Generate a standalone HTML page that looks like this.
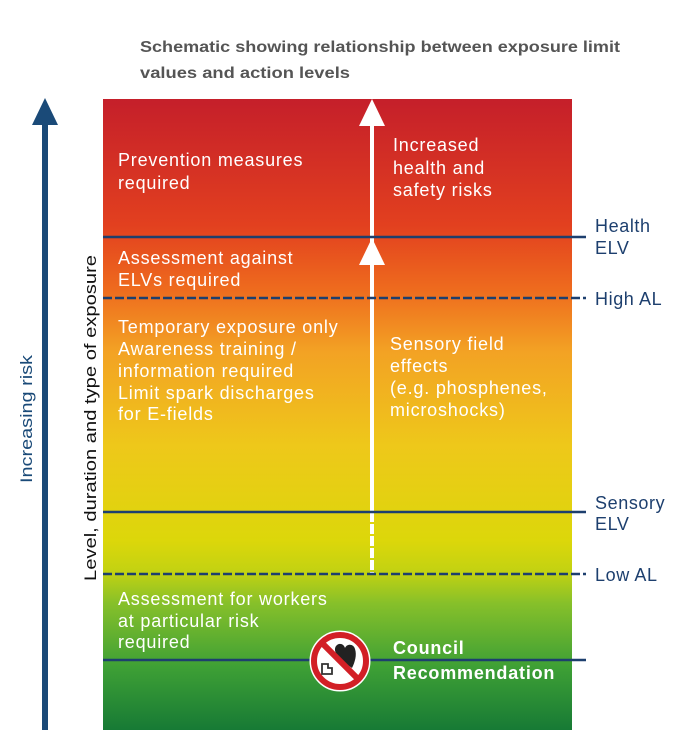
<!DOCTYPE html>
<html><head><meta charset="utf-8"><style>html,body{margin:0;padding:0;background:#fff}svg{display:block}</style></head>
<body>
<svg width="697" height="739" viewBox="0 0 697 739" xmlns="http://www.w3.org/2000/svg" font-family="Liberation Sans, sans-serif">
<defs>
<linearGradient id="g" x1="0" y1="0" x2="0" y2="1">
<stop offset="0" stop-color="#c51f2a"/>
<stop offset="0.2" stop-color="#e2401f"/>
<stop offset="0.3" stop-color="#ee6a1e"/>
<stop offset="0.4" stop-color="#f3a224"/>
<stop offset="0.55" stop-color="#eec81a"/>
<stop offset="0.7" stop-color="#dcd70a"/>
<stop offset="0.75" stop-color="#c2d212"/>
<stop offset="0.8" stop-color="#86c02a"/>
<stop offset="0.9" stop-color="#3ea035"/>
<stop offset="1" stop-color="#177a35"/>
</linearGradient>
</defs>
<text x="140" y="52" font-size="15.5" font-weight="bold" fill="#555" textLength="480" lengthAdjust="spacingAndGlyphs">Schematic showing relationship between exposure limit</text>
<text x="140" y="78" font-size="15.5" font-weight="bold" fill="#555" textLength="210" lengthAdjust="spacingAndGlyphs">values and action levels</text>
<rect x="103" y="99" width="469" height="631" fill="url(#g)"/>
<rect x="42" y="120" width="6" height="610" fill="#1a4a78"/>
<polygon points="45,98 32,125 58,125" fill="#1a4a78"/>
<text transform="translate(32,483) rotate(-90)" font-size="17" fill="#1a4a78" textLength="128" lengthAdjust="spacingAndGlyphs">Increasing risk</text>
<text transform="translate(96,581) rotate(-90)" font-size="17" fill="#111" textLength="326" lengthAdjust="spacingAndGlyphs">Level, duration and type of exposure</text>
<rect x="370" y="118" width="4" height="394" fill="#fff"/>
<line x1="372" y1="512" x2="372" y2="574" stroke="#fff" stroke-width="4" stroke-dasharray="10,2"/>
<polygon points="372,99 359,126 385,126" fill="#fff"/>
<polygon points="372,238 359,265 385,265" fill="#fff"/>
<g stroke="#1d3f6e" stroke-width="2.5">
<line x1="103" y1="237" x2="586" y2="237"/>
<line x1="103" y1="512" x2="586" y2="512"/>
<line x1="103" y1="660" x2="586" y2="660"/>
<line x1="103" y1="298" x2="586" y2="298" stroke-dasharray="9,3"/>
<line x1="103" y1="574" x2="586" y2="574" stroke-dasharray="9,3"/>
</g>
<g fill="#fff" font-size="18" letter-spacing="0.8">
<text x="118" y="166">Prevention measures</text>
<text x="118" y="189">required</text>
<text x="393" y="151">Increased</text>
<text x="393" y="174">health and</text>
<text x="393" y="196">safety risks</text>
<text x="118" y="264">Assessment against</text>
<text x="118" y="286">ELVs required</text>
<text x="118" y="333">Temporary exposure only</text>
<text x="118" y="355">Awareness training /</text>
<text x="118" y="377">information required</text>
<text x="118" y="399">Limit spark discharges</text>
<text x="118" y="420">for E-fields</text>
<text x="390" y="350">Sensory field</text>
<text x="390" y="372">effects</text>
<text x="390" y="394">(e.g. phosphenes,</text>
<text x="390" y="416">microshocks)</text>
<text x="118" y="605">Assessment for workers</text>
<text x="118" y="627">at particular risk</text>
<text x="118" y="648">required</text>
<text x="393" y="654" font-weight="bold">Council</text>
<text x="393" y="679" font-weight="bold">Recommendation</text>
</g>
<g fill="#1d3f6e" font-size="18" letter-spacing="0.6">
<text x="595" y="232">Health</text>
<text x="595" y="254">ELV</text>
<text x="595" y="305">High AL</text>
<text x="595" y="509">Sensory</text>
<text x="595" y="530">ELV</text>
<text x="595" y="581">Low AL</text>
</g>
<circle cx="340" cy="661" r="29" fill="#fff" stroke="#fff" stroke-width="3"/>
<circle cx="340" cy="661" r="26" fill="#fff" stroke="#d21f26" stroke-width="6"/>
<path d="M352,668 C340,660 332,652 336,646 C339,642 344,644 345,648 C347,643 354,644 355,649 C357,655 355,662 352,668 Z" fill="#222"/>
<path d="M322,664 h6 v4 h4 v6 h-10 Z" fill="none" stroke="#333" stroke-width="1.8"/>
<line x1="322" y1="643" x2="358" y2="679" stroke="#d21f26" stroke-width="6"/>
</svg>
</body></html>
